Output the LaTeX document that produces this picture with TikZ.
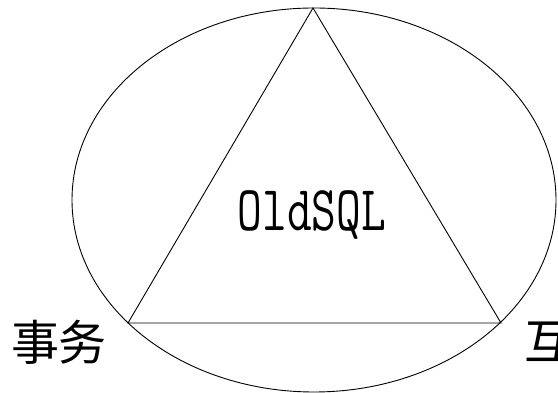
\documentclass[tikz,border=0pt]{standalone}
\usepackage{fontspec}
\newfontfamily\cjk{Noto Sans CJK SC}
\tikzset{
  edge/.style={draw=black, line width=0.9pt},
  cjklabel/.style={inner sep=0pt, font=\cjk\fontsize{48}{56}\selectfont},
  centrelabel/.style={inner sep=0pt, xscale=0.75, font=\ttfamily\fontsize{64}{72}\selectfont}
}
\begin{document}
\begin{tikzpicture}[x=1pt,y=1pt]
\useasboundingbox (0,0) rectangle (558,393);
\coordinate (c) at (314,193);
\draw[edge] (c) ellipse [x radius=242, y radius=192];
\coordinate (top) at (313,385);
\coordinate (bl) at (128,70);
\coordinate (br) at (501,70);
\draw[edge, line join=miter] (top) -- (bl) -- (br) -- cycle;
\node[centrelabel] (old) at (312,178) {OldSQL};
\node[cjklabel] (tx) at (59,51) {事务};
\node[cjklabel, anchor=west] (hu) at (524,51) {互};
\end{tikzpicture}
\end{document}
